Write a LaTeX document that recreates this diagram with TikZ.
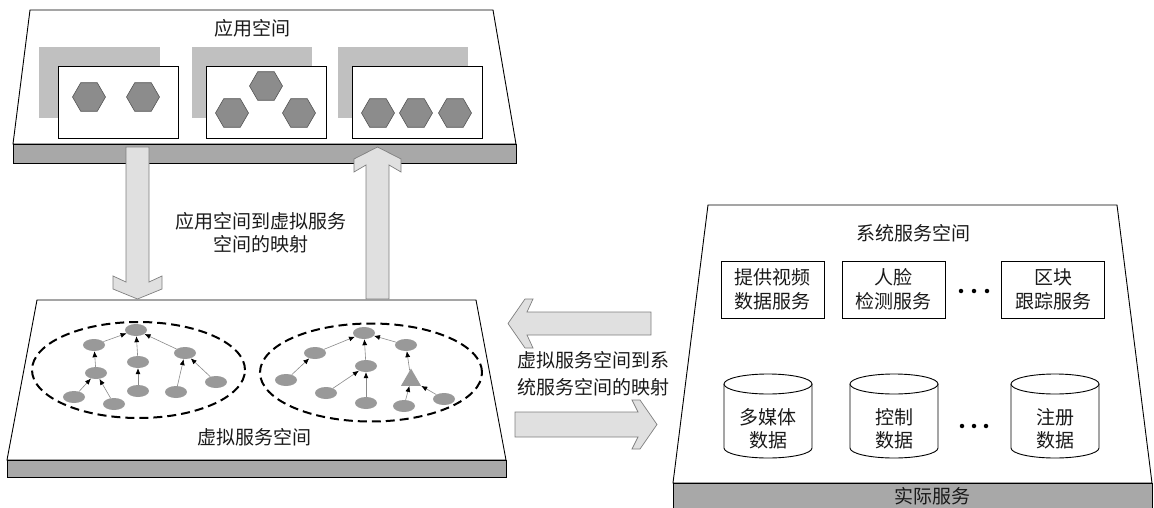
\documentclass[tikz,border=0pt]{standalone}
\usepackage{fontspec}
\newfontfamily\cjk{Noto Sans CJK SC}
\usetikzlibrary{shapes.geometric,arrows.meta}
\definecolor{bandgray}{HTML}{A8A8A8}
\definecolor{shadowgray}{HTML}{C0C0C0}
\definecolor{hexgray}{HTML}{8C8C8C}
\definecolor{hexedge}{HTML}{555555}
\definecolor{nodegray}{HTML}{999999}
\definecolor{edgegray}{HTML}{8A8A8A}
\definecolor{arrowfill}{HTML}{E0E0E0}
\definecolor{arrowedge}{HTML}{7F7F7F}
\definecolor{txt}{HTML}{1A1A1A}
\begin{document}
\begin{tikzpicture}[x=1pt,y=-1pt,
  font=\cjk\fontsize{19}{24}\selectfont, text=txt,
  plat/.style={draw=black, fill=white, line width=0.9pt},
  band/.style={draw=black, fill=bandgray, line width=0.9pt},
  shadowrect/.style={fill=shadowgray},
  appbox/.style={draw=black, fill=white, line width=0.8pt, minimum width=120pt, minimum height=72pt, inner sep=0pt},
  hexa/.style={regular polygon, regular polygon sides=6, minimum size=33pt, inner sep=0pt, fill=hexgray, draw=hexedge, line width=0.6pt},
  vn/.style={ellipse, fill=nodegray, minimum width=22pt, minimum height=12pt, inner sep=0pt},
  tri/.style={regular polygon, regular polygon sides=3, minimum size=23pt, inner sep=0pt, fill=nodegray},
  vedge/.style={draw=edgegray, line width=0.6pt, -{Latex[length=6pt,width=5pt,color=black]}},
  grp/.style={ellipse, draw=black, dash pattern=on 9pt off 5pt, line width=2pt, inner sep=0pt},
  bigarrow/.style={fill=arrowfill, draw=arrowedge, line width=0.7pt},
  svc/.style={draw=black, fill=white, minimum width=103pt, minimum height=57pt, align=center, line width=0.9pt, inner sep=0pt},
  dbdraw/.style={draw=black, fill=white, line width=0.9pt},
  dotn/.style={circle, fill=black, minimum size=4.5pt, inner sep=0pt},
]
\useasboundingbox (0,0) rectangle (1154,508);

% ---------- application space ----------
\draw[plat] (30,10) -- (493,10) -- (516,144) -- (13,144) -- cycle;
\draw[band] (13,144) rectangle (516,163);
\node (apptitle) at (252,28) {应用空间};
\fill[shadowrect] (39,47) rectangle (160,118);
\fill[shadowrect] (192,47) rectangle (312,118);
\fill[shadowrect] (338,47) rectangle (468,118);
\node[appbox] (a1) at (118,102) {};
\node[appbox] (a2) at (266,102) {};
\node[appbox, minimum width=130pt] (a3) at (417,102) {};
\node[hexa] (h11) at (89,97) {};
\node[hexa] (h12) at (143,97) {};
\node[hexa] (h21) at (266,86) {};
\node[hexa] (h22) at (232,113) {};
\node[hexa] (h23) at (299,113) {};
\node[hexa] (h31) at (378,113) {};
\node[hexa] (h32) at (416,113) {};
\node[hexa] (h33) at (455,113) {};

% ---------- virtual service space ----------
\draw[plat] (37,300) -- (476,300) -- (506,460) -- (7,460) -- cycle;
\draw[band] (7,460) rectangle (506,477);
\node (vtitle) at (254,437) {虚拟服务空间};
\node[grp, minimum width=213pt, minimum height=96pt] (g1) at (138.5,370) {};
\node[grp, minimum width=222pt, minimum height=98pt] (g2) at (371,372.5) {};

% left tree
\node[vn] (lA) at (136,330) {};
\node[vn] (lB) at (94,345) {};
\node[vn] (lC) at (138,362) {};
\node[vn] (lD) at (185,353) {};
\node[vn] (lE) at (96,373) {};
\node[vn] (lF) at (74,397) {};
\node[vn] (lG) at (114,404) {};
\node[vn] (lH) at (138,391) {};
\node[vn] (lI) at (176,392) {};
\node[vn] (lJ) at (216,382) {};
\draw[vedge] (lB) -- (lA);
\draw[vedge] (lC) -- (lA);
\draw[vedge] (lD) -- (lA);
\draw[vedge] (lE) -- (lB);
\draw[vedge] (lF) -- (lE);
\draw[vedge] (lG) -- (lE);
\draw[vedge] (lH) -- (lC);
\draw[vedge] (lI) -- (lD);
\draw[vedge] (lJ) -- (lD);

% right tree
\node[vn] (rA) at (364,333) {};
\node[vn] (rB) at (315,353) {};
\node[vn] (rC) at (366,366) {};
\node[vn] (rD) at (406,345) {};
\node[vn] (rE) at (286,380) {};
\node[vn] (rF) at (326,393) {};
\node[vn] (rG) at (366,403) {};
\node[tri] (rT) at (411,380) {};
\node[vn] (rH) at (404,406) {};
\node[vn] (rI) at (444,399) {};
\draw[vedge] (rB) -- (rA);
\draw[vedge] (rC) -- (rA);
\draw[vedge] (rD) -- (rA);
\draw[vedge] (rE) -- (rB);
\draw[vedge] (rF) -- (rC);
\draw[vedge] (rG) -- (rC);
\draw[vedge] (rT) -- (rD);
\draw[vedge] (rH) -- (rT);
\draw[vedge] (rI) -- (rT);

% ---------- system service space ----------
\draw[plat] (708,205) -- (1117,205) -- (1152,483) -- (673,483) -- cycle;
\draw[band] (673,483) rectangle (1152,512);
\node (stitle) at (913,233) {系统服务空间};
\node (rtitle) at (932,496) {实际服务};
\node[svc] (s1) at (772.5,289.5) {提供视频\\数据服务};
\node[svc] (s2) at (893.5,289.5) {人脸\\检测服务};
\node[svc] (s3) at (1053,289.5) {区块\\跟踪服务};
\node[dotn] (d1) at (961,291) {};
\node[dotn] (d2) at (974,291) {};
\node[dotn] (d3) at (987,291) {};

\foreach \cx/\nm/\lab in {768/c1/{多媒体\\数据}, 894/c2/{控制\\数据}, 1055/c3/{注册\\数据}}{
  \draw[dbdraw] (\cx-44,384) -- (\cx-44,448) arc[start angle=180, end angle=360, x radius=44pt, y radius=10pt] -- (\cx+44,384);
  \draw[dbdraw] (\cx,384) ellipse [x radius=44pt, y radius=10pt];
  \node[align=center, font=\cjk\fontsize{19}{23}\selectfont] (\nm) at (\cx,428.5) {\lab};
}
\node[dotn] (e1) at (962,426) {};
\node[dotn] (e2) at (974,426) {};
\node[dotn] (e3) at (986,426) {};

% ---------- mapping arrows ----------
\draw[bigarrow] (126,147) -- (149,147) -- (149,282) -- (162,276) -- (162,289) -- (137.5,299) -- (113,289) -- (113,276) -- (126,282) -- cycle;
\draw[bigarrow] (366,299) -- (366,165) -- (354,172) -- (354,159) -- (377.5,147) -- (401,159) -- (401,172) -- (389,165) -- (389,299) -- cycle;
\node[align=center, font=\cjk\fontsize{19}{23}\selectfont] (map1) at (261,232.5) {应用空间到虚拟服务\\空间的映射};

\draw[bigarrow] (651,312) -- (527,312) -- (533,299) -- (525,299) -- (508,323.5) -- (525,348) -- (533,348) -- (527,335) -- (651,335) -- cycle;
\draw[bigarrow] (515,412) -- (638,412) -- (632,400) -- (640,400) -- (657,424.5) -- (640,449) -- (632,449) -- (638,437) -- (515,437) -- cycle;
\node[align=left, font=\cjk\fontsize{19}{27}\selectfont] (map2) at (593,373.5) {虚拟服务空间到系\\统服务空间的映射};
\end{tikzpicture}
\end{document}
